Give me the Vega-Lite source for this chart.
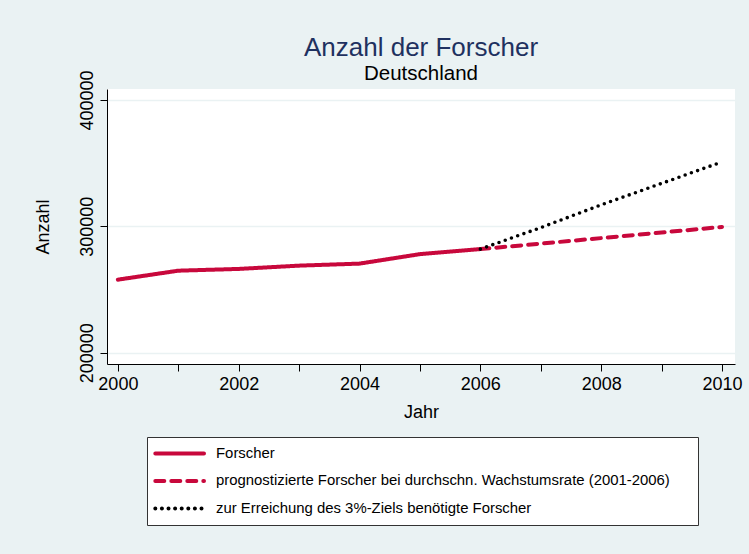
{
  "$schema": "https://vega.github.io/schema/vega-lite/v6.json",
  "width": 628,
  "height": 275,
  "autosize": {"type": "none"},
  "padding": {"left": 107, "top": 89, "right": 14, "bottom": 190},
  "background": "#EAF2F3",
  "title": {
    "text": "Anzahl der Forscher",
    "subtitle": "Deutschland",
    "anchor": "middle",
    "font": "Liberation Sans",
    "fontSize": 26,
    "fontWeight": "normal",
    "color": "#1F3160",
    "subtitleFont": "Liberation Sans",
    "subtitleFontSize": 20.5,
    "subtitleColor": "#000000",
    "subtitlePadding": 3,
    "offset": -15
  },
  "data": {
    "values": [
      {"year": 2000, "value": 257800, "series": "Forscher"},
      {"year": 2001, "value": 264900, "series": "Forscher"},
      {"year": 2002, "value": 266300, "series": "Forscher"},
      {"year": 2003, "value": 268900, "series": "Forscher"},
      {"year": 2004, "value": 270500, "series": "Forscher"},
      {"year": 2005, "value": 278000, "series": "Forscher"},
      {"year": 2006, "value": 282000, "series": "Forscher"},
      {"year": 2006, "value": 282000, "series": "prognostizierte Forscher bei durchschn. Wachstumsrate (2001-2006)"},
      {"year": 2007, "value": 286300, "series": "prognostizierte Forscher bei durchschn. Wachstumsrate (2001-2006)"},
      {"year": 2008, "value": 290700, "series": "prognostizierte Forscher bei durchschn. Wachstumsrate (2001-2006)"},
      {"year": 2009, "value": 295100, "series": "prognostizierte Forscher bei durchschn. Wachstumsrate (2001-2006)"},
      {"year": 2010, "value": 299500, "series": "prognostizierte Forscher bei durchschn. Wachstumsrate (2001-2006)"},
      {"year": 2006, "value": 282000, "series": "zur Erreichung des 3%-Ziels benötigte Forscher"},
      {"year": 2007, "value": 299000, "series": "zur Erreichung des 3%-Ziels benötigte Forscher"},
      {"year": 2008, "value": 317000, "series": "zur Erreichung des 3%-Ziels benötigte Forscher"},
      {"year": 2009, "value": 334000, "series": "zur Erreichung des 3%-Ziels benötigte Forscher"},
      {"year": 2010, "value": 351000, "series": "zur Erreichung des 3%-Ziels benötigte Forscher"}
    ]
  },
  "encoding": {
    "x": {
      "field": "year",
      "type": "quantitative",
      "scale": {"domain": [1999.82, 2010.215], "nice": false, "zero": false},
      "axis": {
        "title": "Jahr",
        "values": [2000, 2001, 2002, 2003, 2004, 2005, 2006, 2007, 2008, 2009, 2010],
        "labelExpr": "datum.value % 2 == 0 ? format(datum.value, 'd') : ''",
        "grid": false,
        "tickSize": 7,
        "labelPadding": 4,
        "labelFontSize": 18,
        "titleFontSize": 18,
        "titlePadding": 10,
        "labelOverlap": false,
        "labelFlush": false
      }
    },
    "y": {
      "field": "value",
      "type": "quantitative",
      "scale": {"domain": [191050, 408700], "nice": false, "zero": false},
      "axis": {
        "title": "Anzahl",
        "values": [200000, 300000, 400000],
        "format": "d",
        "grid": true,
        "gridColor": "#EAF2F3",
        "gridWidth": 1.5,
        "tickSize": 7,
        "labelAngle": 270,
        "labelAlign": "center",
        "labelBaseline": "alphabetic",
        "labelPadding": 8,
        "labelFontSize": 18,
        "titleFontSize": 18,
        "titlePadding": 26,
        "labelOverlap": false,
        "labelFlush": false
      }
    },
    "color": {
      "field": "series",
      "type": "nominal",
      "scale": {
        "domain": ["Forscher", "prognostizierte Forscher bei durchschn. Wachstumsrate (2001-2006)", "zur Erreichung des 3%-Ziels benötigte Forscher"],
        "range": ["#C8083C", "#C8083C", "#000000"]
      },
      "legend": {
        "title": null,
        "orient": "none",
        "legendX": 40,
        "legendY": 348,
        "padding": 8,
        "fillColor": "#FFFFFF",
        "strokeColor": "#333333",
        "symbolType": "M-1.26,0H6.23",
        "symbolSize": 169,
        "symbolStrokeWidth": 4,
        "labelOffset": 44,
        "labelFont": "Liberation Sans",
        "labelFontSize": 14.9,
        "labelColor": "#000000",
        "labelLimit": 1000,
        "rowPadding": 10.5,
        "labelExpr": "length(datum.label) > 60 ? datum.label + '\u00a0\u00a0\u2800' : datum.label",
        "encode": {"symbols": {"update": {"strokeCap": {"value": "round"}}}}
      }
    },
    "strokeDash": {
      "field": "series",
      "type": "nominal",
      "scale": {
        "domain": ["Forscher", "prognostizierte Forscher bei durchschn. Wachstumsrate (2001-2006)", "zur Erreichung des 3%-Ziels benötigte Forscher"],
        "range": [[1, 0], [9, 7], [0, 6.6]]
      },
      "legend": {
        "title": null,
        "orient": "none",
        "legendX": 40,
        "legendY": 348,
        "padding": 8,
        "fillColor": "#FFFFFF",
        "strokeColor": "#333333",
        "symbolType": "M-1.26,0H6.23",
        "symbolSize": 169,
        "symbolStrokeWidth": 4,
        "labelOffset": 44,
        "labelFont": "Liberation Sans",
        "labelFontSize": 14.9,
        "labelColor": "#000000",
        "labelLimit": 1000,
        "rowPadding": 10.5,
        "labelExpr": "length(datum.label) > 60 ? datum.label + '\u00a0\u00a0\u2800' : datum.label",
        "encode": {"symbols": {"update": {"strokeCap": {"value": "round"}}}}
      }
    }
  },
  "layer": [
    {
      "transform": [{"filter": "datum.series != 'zur Erreichung des 3%-Ziels benötigte Forscher'"}],
      "mark": {"type": "line", "strokeWidth": 4, "strokeCap": "round", "strokeJoin": "round"}
    },
    {
      "transform": [{"filter": "datum.series == 'zur Erreichung des 3%-Ziels benötigte Forscher'"}],
      "mark": {"type": "line", "strokeWidth": 3.6, "strokeCap": "round", "strokeJoin": "round"}
    }
  ],
  "config": {
    "font": "Liberation Sans",
    "view": {"stroke": null, "fill": "#FFFFFF"},
    "axis": {
      "domainColor": "#000000",
      "domainWidth": 1,
      "tickColor": "#000000",
      "tickWidth": 1,
      "labelColor": "#000000",
      "titleColor": "#000000",
      "titleFontWeight": "normal",
      "labelFont": "Liberation Sans",
      "titleFont": "Liberation Sans"
    }
  }
}
